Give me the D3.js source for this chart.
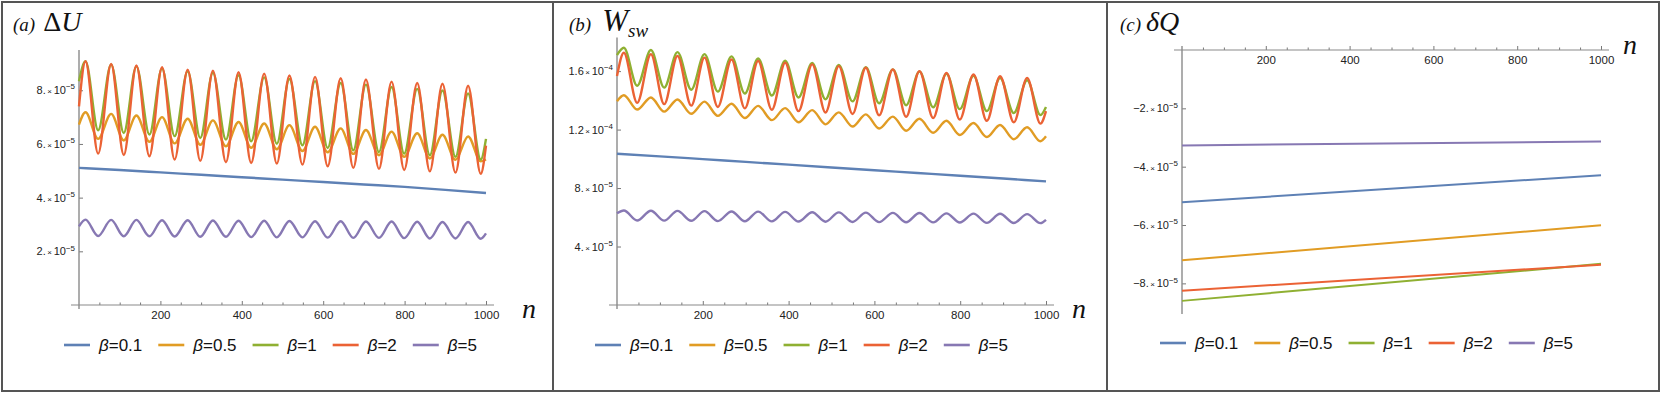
<!DOCTYPE html>
<html>
<head>
<meta charset="utf-8">
<script src="https://cdn.jsdelivr.net/npm/d3@7"></script>
<style>
body { margin: 0; background: #fff; }
svg { display: block; }
</style>
</head>
<body>
<script>
// n positions of the maxima / minima of the oscillating curves
var peakN = [16, 79, 141, 204, 267, 329, 392, 455, 517, 580, 643, 705, 768, 831, 893, 956];
var troughN = [47, 110, 173, 235, 298, 361, 423, 486, 549, 611, 674, 737, 799, 862, 925, 987];
var gridN = [0, 100, 200, 300, 400, 500, 600, 700, 800, 900, 1000];
var lineN = [0, 1000];

var betaValues = ["0.1", "0.5", "1", "2", "5"];
var colors = ["#5E81B5", "#E19C24", "#8FB032", "#EB6235", "#8778B3"];

// (a) Delta U, values in units of 1e-5
var dU_b01 = [5.11, 5.03, 4.94, 4.85, 4.76, 4.67, 4.58, 4.49, 4.40, 4.29, 4.17];
var dU_b05_ends = [6.72, 5.42];
var dU_b05_peaks = [7.18, 7.12, 7.06, 7.00, 6.94, 6.88, 6.82, 6.76, 6.70, 6.64, 6.58, 6.52, 6.46, 6.40, 6.34, 6.28];
var dU_b05_troughs = [6.19, 6.13, 6.08, 6.02, 5.97, 5.91, 5.86, 5.80, 5.74, 5.69, 5.63, 5.58, 5.52, 5.46, 5.41, 5.35];
var dU_b1_ends = [8.34, 6.19];
var dU_b1_peaks = [9.08, 8.96, 8.89, 8.81, 8.71, 8.65, 8.56, 8.48, 8.42, 8.34, 8.27, 8.21, 8.12, 8.05, 7.99, 7.88];
var dU_b1_troughs = [6.51, 6.41, 6.35, 6.29, 6.22, 6.16, 6.10, 6.01, 5.95, 5.85, 5.76, 5.70, 5.64, 5.58, 5.52, 5.42];
var dU_b2_ends = [7.40, 5.94];
var dU_b2_peaks = [9.08, 8.98, 8.92, 8.86, 8.77, 8.73, 8.67, 8.62, 8.55, 8.50, 8.45, 8.40, 8.32, 8.27, 8.24, 8.17];
var dU_b2_troughs = [5.64, 5.59, 5.54, 5.42, 5.37, 5.32, 5.29, 5.27, 5.23, 5.17, 5.11, 5.07, 5.03, 4.98, 4.93, 4.89];
var dU_b5_ends = [2.93, 2.67];
var dU_b5_peaks = [3.18, 3.17, 3.17, 3.16, 3.16, 3.15, 3.14, 3.14, 3.13, 3.12, 3.12, 3.11, 3.11, 3.10, 3.09, 3.09];
var dU_b5_troughs = [2.57, 2.56, 2.56, 2.55, 2.54, 2.54, 2.53, 2.52, 2.52, 2.51, 2.50, 2.50, 2.49, 2.48, 2.48, 2.47];

// (b) W_sw, units of 1e-5
var W_b01 = [10.35, 10.17, 9.98, 9.79, 9.60, 9.41, 9.22, 9.03, 8.84, 8.65, 8.46];
var W_b05_ends = [13.94, 11.54];
var W_b05_peaks = [14.35, 14.20, 14.06, 13.91, 13.77, 13.62, 13.47, 13.33, 13.18, 13.04, 12.89, 12.74, 12.60, 12.45, 12.31, 12.16];
var W_b05_troughs = [13.37, 13.23, 13.08, 12.94, 12.79, 12.65, 12.50, 12.36, 12.21, 12.07, 11.92, 11.78, 11.63, 11.49, 11.34, 11.20];
var W_b1_ends = [17.10, 13.55];
var W_b1_peaks = [17.60, 17.45, 17.30, 17.16, 17.01, 16.86, 16.71, 16.56, 16.42, 16.27, 16.12, 15.97, 15.82, 15.68, 15.53, 15.38];
var W_b1_troughs = [15.00, 14.87, 14.73, 14.60, 14.47, 14.33, 14.20, 14.07, 13.93, 13.80, 13.67, 13.53, 13.40, 13.27, 13.13, 13.00];
var W_b2_ends = [15.66, 13.26];
var W_b2_peaks = [17.26, 17.15, 17.03, 16.92, 16.80, 16.69, 16.57, 16.46, 16.34, 16.23, 16.11, 16.00, 15.88, 15.77, 15.65, 15.54];
var W_b2_troughs = [13.83, 13.74, 13.64, 13.55, 13.45, 13.36, 13.26, 13.17, 13.07, 12.98, 12.88, 12.79, 12.69, 12.60, 12.50, 12.41];
var W_b5_ends = [6.27, 5.83];
var W_b5_peaks = [6.47, 6.45, 6.44, 6.42, 6.40, 6.39, 6.37, 6.35, 6.34, 6.32, 6.30, 6.29, 6.27, 6.25, 6.24, 6.22];
var W_b5_troughs = [5.78, 5.77, 5.76, 5.74, 5.73, 5.72, 5.71, 5.70, 5.68, 5.67, 5.66, 5.65, 5.64, 5.62, 5.61, 5.60];

// (c) delta Q, units of 1e-5, values at n = 0 and n = 1000
var dQ_b01 = [-5.22, -4.29];
var dQ_b05 = [-7.21, -6.01];
var dQ_b1 = [-8.60, -7.33];
var dQ_b2 = [-8.25, -7.36];
var dQ_b5 = [-3.27, -3.14];

// tick labels
var xTicks = [200, 400, 600, 800, 1000];
var xMinor = [50, 100, 150, 250, 300, 350, 450, 500, 550, 650, 700, 750, 850, 900, 950];
var aTicks = [2, 4, 6, 8];
var aTickMant = ["2.", "4.", "6.", "8."];
var aTickExp = ["\u22125", "\u22125", "\u22125", "\u22125"];
var bTicks = [4, 8, 12, 16];
var bTickMant = ["4.", "8.", "1.2", "1.6"];
var bTickExp = ["\u22125", "\u22125", "\u22124", "\u22124"];
var cTicks = [-2, -4, -6, -8];
var cTickMant = ["\u22122.", "\u22124.", "\u22126.", "\u22128."];
var cTickExp = ["\u22125", "\u22125", "\u22125", "\u22125"];

function onGrid(vals) {
    return vals.map(function (v, i) { return [gridN[i], v]; });
}
function onLine(vals) {
    return vals.map(function (v, i) { return [lineN[i], v]; });
}
function osc(ends, peaks, troughs) {
    var pts = [[0, ends[0]], [1000, ends[1]]];
    peaks.forEach(function (v, i) { pts.push([peakN[i], v]); });
    troughs.forEach(function (v, i) { pts.push([troughN[i], v]); });
    pts.sort(function (p, q) { return p[0] - q[0]; });
    return pts;
}

var W = 1661, H = 393;
var svg = d3.select("body").append("svg").attr("width", W).attr("height", H);

var sans = "'Liberation Sans', Arial, sans-serif";
var serif = "'Liberation Serif', 'DejaVu Serif', 'Times New Roman', serif";
var axisColor = "#8a8a8a";

function drawPanel(p) {
    var g = svg.append("g");
    var x = d3.scaleLinear().domain([0, 1000]).range(p.xRange);
    var y = d3.scaleLinear().domain(p.yDomain).range(p.yRange);
    var axisY = y(0);

    // x axis: minor ticks, major ticks, labels below
    var minor = g.append("g").attr("transform", "translate(0," + axisY + ")")
        .call(d3.axisBottom(x).tickValues(xMinor).tickFormat("").tickSizeInner(-2.5).tickSizeOuter(0));
    minor.select(".domain").remove();
    minor.selectAll("line").attr("stroke", "#555").attr("stroke-width", 0.8);

    var xa = g.append("g").attr("transform", "translate(0," + axisY + ")")
        .call(d3.axisBottom(x).tickValues(xTicks).tickFormat(d3.format("d")).tickSizeInner(-4).tickSizeOuter(0).tickPadding(6));
    xa.select(".domain").remove();
    xa.selectAll("line").attr("stroke", "#555").attr("stroke-width", 0.8);
    xa.selectAll("text").attr("font-family", sans).attr("font-size", 11.5).attr("fill", "#222");

    g.append("line")
        .attr("x1", x(0) - 8).attr("x2", x(1000) + 8)
        .attr("y1", axisY).attr("y2", axisY)
        .attr("stroke", axisColor).attr("stroke-width", 1.2);

    // y axis
    var ya = g.append("g").attr("transform", "translate(" + x(0) + ",0)")
        .call(d3.axisLeft(y).tickValues(p.yTicks).tickSizeInner(-4).tickSizeOuter(0).tickPadding(4));
    ya.select(".domain").remove();
    ya.selectAll("line").attr("stroke", "#555").attr("stroke-width", 0.8);
    ya.selectAll("text").each(function (d, i) {
        var t = d3.select(this).text("")
            .attr("font-family", sans).attr("font-size", 11).attr("fill", "#222");
        t.append("tspan").text(p.tickMant[i]);
        t.append("tspan").attr("font-size", 8).text("\u2009\u00d7\u2009");
        t.append("tspan").text("10");
        t.append("tspan").attr("font-size", 8).attr("dy", "-0.6em").text(p.tickExp[i]);
    });

    g.append("line")
        .attr("x1", x(0)).attr("x2", x(0))
        .attr("y1", y(p.yDomain[0]) + p.yExtra[0]).attr("y2", y(p.yDomain[1]) + p.yExtra[1])
        .attr("stroke", axisColor).attr("stroke-width", 1.4);

    // n label
    g.append("text")
        .attr("x", x(1000) + p.nLabel[0]).attr("y", axisY + p.nLabel[1])
        .attr("font-family", serif).attr("font-style", "italic").attr("font-size", 28)
        .attr("fill", "#111").text("n");

    // series
    var line = d3.line()
        .x(function (d) { return x(d[0]); })
        .y(function (d) { return y(d[1]); })
        .curve(d3.curveMonotoneX);
    g.selectAll(".series")
        .data(p.series)
        .enter().append("path")
        .attr("class", "series")
        .attr("d", line)
        .attr("fill", "none")
        .attr("stroke", function (d, i) { return colors[i]; })
        .attr("stroke-width", p.lineWidth);

    // title
    var title = g.append("text").attr("x", p.title[0]).attr("y", p.title[1])
        .attr("font-family", serif).attr("fill", "#111");
    title.append("tspan").attr("font-style", "italic").attr("font-size", 19).text(p.label);
    p.titleParts(title);

    // legend
    var lx = p.legend[0], ly = p.legend[1];
    betaValues.forEach(function (b, i) {
        g.append("line")
            .attr("x1", lx).attr("x2", lx + 26).attr("y1", ly).attr("y2", ly)
            .attr("stroke", colors[i]).attr("stroke-width", 2.6);
        var t = g.append("text").attr("x", lx + 35).attr("y", ly + 6)
            .attr("font-family", sans).attr("font-size", 17).attr("fill", "#111");
        t.append("tspan").attr("font-style", "italic").text("\u03b2");
        t.append("tspan").text("=" + b);
        lx += 35 + t.node().getComputedTextLength() + 16;
    });
}

drawPanel({
    xRange: [79, 486], yDomain: [0, 9.5], yRange: [305, 50], yExtra: [4, 0],
    yTicks: aTicks, tickMant: aTickMant, tickExp: aTickExp,
    nLabel: [36, 13], lineWidth: 2.4,
    series: [onGrid(dU_b01), osc(dU_b05_ends, dU_b05_peaks, dU_b05_troughs),
        osc(dU_b1_ends, dU_b1_peaks, dU_b1_troughs), osc(dU_b2_ends, dU_b2_peaks, dU_b2_troughs),
        osc(dU_b5_ends, dU_b5_peaks, dU_b5_troughs)],
    title: [13, 31], label: "(a)",
    titleParts: function (t) {
        t.append("tspan").attr("font-size", 28).attr("dx", 8).text("\u0394");
        t.append("tspan").attr("font-size", 28).attr("font-style", "italic").text("U");
    },
    legend: [64, 345]
});

drawPanel({
    xRange: [617, 1046], yDomain: [0, 18.3], yRange: [305, 37.5], yExtra: [4, 0],
    yTicks: bTicks, tickMant: bTickMant, tickExp: bTickExp,
    nLabel: [26, 13], lineWidth: 2.4,
    series: [onGrid(W_b01), osc(W_b05_ends, W_b05_peaks, W_b05_troughs),
        osc(W_b1_ends, W_b1_peaks, W_b1_troughs), osc(W_b2_ends, W_b2_peaks, W_b2_troughs),
        osc(W_b5_ends, W_b5_peaks, W_b5_troughs)],
    title: [569, 31], label: "(b)",
    titleParts: function (t) {
        t.append("tspan").attr("font-size", 31).attr("font-style", "italic").attr("dx", 11).text("W");
        t.append("tspan").attr("font-size", 19).attr("font-style", "italic").attr("dy", 6).text("sw");
    },
    legend: [595, 345]
});

drawPanel({
    xRange: [1182, 1601], yDomain: [-9.05, 0], yRange: [314, 50], yExtra: [0, -4],
    yTicks: cTicks, tickMant: cTickMant, tickExp: cTickExp,
    nLabel: [22, 4], lineWidth: 2,
    series: [onLine(dQ_b01), onLine(dQ_b05), onLine(dQ_b1), onLine(dQ_b2), onLine(dQ_b5)],
    title: [1120, 31], label: "(c)",
    titleParts: function (t) {
        t.append("tspan").attr("font-size", 28).attr("font-style", "italic").attr("dx", 5).text("\u03b4Q");
    },
    legend: [1160, 343]
});

// frame and panel separators
svg.append("rect").attr("x", 2).attr("y", 2).attr("width", W - 4).attr("height", H - 4)
    .attr("fill", "none").attr("stroke", "#555").attr("stroke-width", 2);
[553, 1107].forEach(function (sx) {
    svg.append("line").attr("x1", sx).attr("x2", sx).attr("y1", 2).attr("y2", H - 2)
        .attr("stroke", "#555").attr("stroke-width", 2);
});
</script>
</body>
</html>
